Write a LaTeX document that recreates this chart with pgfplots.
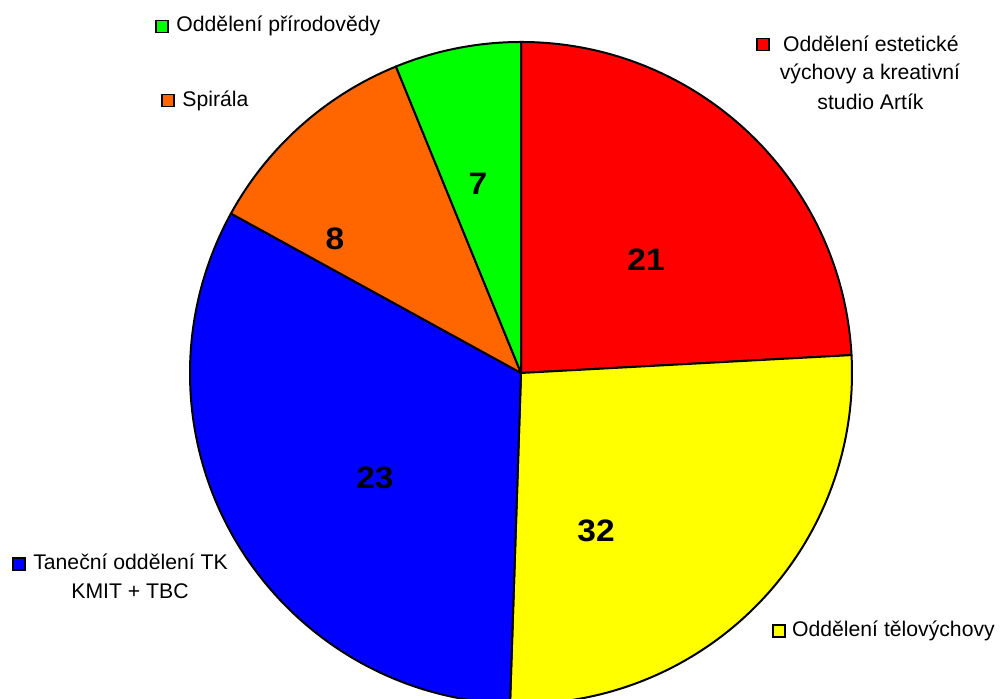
\documentclass[border=0pt]{standalone}
\usepackage{pgfplots}
\pgfplotsset{compat=1.18}
\usepackage{fontspec}
\setmainfont{Liberation Sans}
\definecolor{pRed}{HTML}{FF0000}
\definecolor{pYellow}{HTML}{FFFF00}
\definecolor{pBlue}{HTML}{0000FF}
\definecolor{pOrange}{HTML}{FF6600}
\definecolor{pGreen}{HTML}{00FF00}
% slice sizes in degrees, clockwise from 12 o'clock
\def\cx{521}\def\cy{326}\def\R{331}
\gdef\angstart{90}
\newcommand\pieslice[2]{%
  \pgfmathsetmacro\angend{\angstart-#1}%
  \pgfmathsetmacro\sx{\cx+\R*cos(\angstart)}%
  \pgfmathsetmacro\sy{\cy+\R*sin(\angstart)}%
  \edef\temp{\noexpand\filldraw[fill=#2, draw=black, line width=1pt, line join=round]
    (axis cs:\cx,\cy) -- (axis cs:\sx,\sy) arc[start angle=\angstart, end angle=\angend, radius=165.5pt] -- cycle;}%
  \temp
  \global\let\angstart\angend
}
\newcommand\legsq[3]{\node[draw=black, line width=0.8pt, fill=#3, minimum size=6pt, inner sep=0pt] at (axis cs:#1,#2) {};}
\begin{document}
\begin{tikzpicture}
\begin{axis}[
  scale only axis, width=500.5pt, height=349.5pt,
  xmin=0, xmax=1001, ymin=0, ymax=699,
  hide axis, clip=true,
]
\pieslice{86.9}{pRed}
\pieslice{95.0}{pYellow}
\pieslice{116.9}{pBlue}
\pieslice{39.0}{pOrange}
\pieslice{22.2}{pGreen}
% value labels
\begin{scope}[every node/.style={inner sep=0pt, font=\fontsize{15.5}{18}\selectfont\bfseries}]
\node[xscale=1.08] at (axis cs:646,439) {21};
\node[xscale=1.08] at (axis cs:596,168) {32};
\node[xscale=1.08] at (axis cs:375,221.5) {23};
\node[xscale=1.08] at (axis cs:335,460) {8};
\node[xscale=1.08] at (axis cs:478,515) {7};
\end{scope}
% category labels
\begin{scope}[every node/.style={inner sep=0pt, font=\fontsize{10.6}{12}\selectfont}]
\legsq{162}{672.3}{pGreen}
\node[anchor=base west] at (axis cs:176,667.5) {Oddělení přírodovědy};
\legsq{167.7}{598.5}{pOrange}
\node[anchor=base west] at (axis cs:182,592.5) {Spirála};
\legsq{763}{654.3}{pRed}
\node[anchor=base] at (axis cs:870.8,647.3) {Oddělení estetické};
\node[anchor=base] at (axis cs:870,619) {výchovy a kreativní};
\node[anchor=base] at (axis cs:870.5,589.7) {studio Artík};
\legsq{18.7}{135}{pBlue}
\node[anchor=base] at (axis cs:130.5,129) {Taneční oddělení TK};
\node[anchor=base] at (axis cs:130,100.7) {KMIT + TBC};
\legsq{779}{68}{pYellow}
\node[anchor=base west] at (axis cs:791.7,62) {Oddělení tělovýchovy};
\end{scope}
\end{axis}
\pgfresetboundingbox
\path (current axis.south west) rectangle (current axis.north east);
\end{tikzpicture}
\end{document}
